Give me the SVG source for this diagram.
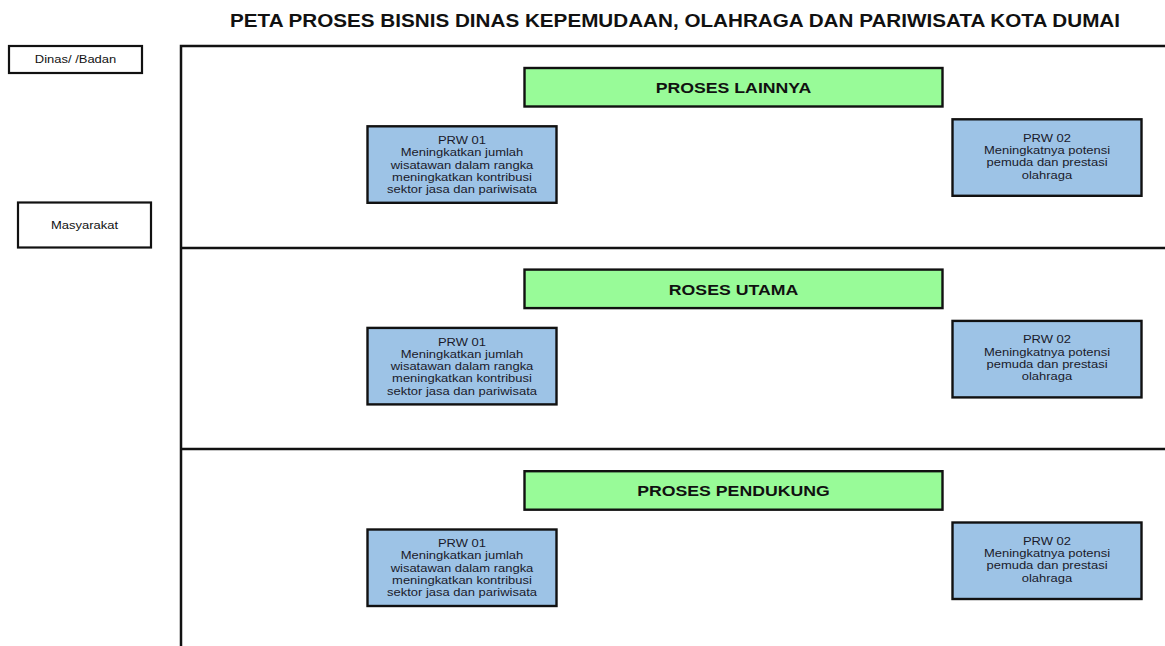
<svg xmlns="http://www.w3.org/2000/svg" width="1165" height="646" viewBox="0 0 1165 646">
<style>
text{font-family:"Liberation Sans",Arial,sans-serif;fill:#111;}
.title{font-size:17.5px;font-weight:bold;}
.lbl{font-size:11px;text-anchor:middle;}
.box{fill:#fff;stroke:#111;stroke-width:2.2;}
.lane{fill:none;stroke:#111;stroke-width:2.5;}
.grn{fill:#98fb98;stroke:#111;stroke-width:2.4;}
.gtx{font-size:15px;font-weight:bold;text-anchor:middle;}
.blu{fill:#9dc3e6;stroke:#111;stroke-width:2.4;}
.btx{font-size:11px;text-anchor:middle;fill:#1a1a2a;}
</style>
<rect width="1165" height="646" fill="#fff"/>
<text class="title" x="675" y="26.7" text-anchor="middle" textLength="890" lengthAdjust="spacingAndGlyphs">PETA PROSES BISNIS DINAS KEPEMUDAAN, OLAHRAGA DAN PARIWISATA KOTA DUMAI</text>

<g id="lanes">
<rect class="lane" x="181" y="46" width="1010" height="640"/>
<line class="lane" x1="181" y1="248" x2="1170" y2="248"/>
<line class="lane" x1="181" y1="449" x2="1170" y2="449"/>
</g>

<g id="dinas-badan">
<rect class="box" x="9" y="46" width="133" height="27"/>
<text class="lbl" transform="translate(75.5 0) scale(1.18 1)" x="0" y="63.3">Dinas/ /Badan</text>
</g>
<g id="masyarakat">
<rect class="box" x="18" y="202.5" width="133" height="45"/>
<text class="lbl" transform="translate(84.5 0) scale(1.18 1)" x="0" y="229.3">Masyarakat</text>
</g>

<g id="proses-lainnya">
<rect class="grn" x="524.5" y="68" width="418" height="38.5"/>
<text class="gtx" transform="translate(733.5 0) scale(1.18 1)" x="0" y="93">PROSES LAINNYA</text>
</g>
<g id="lainnya-prw01">
<rect class="blu" x="367.5" y="126.3" width="189" height="76.5"/>
<text class="btx" transform="translate(462 0) scale(1.18 1)"><tspan x="0" y="144">PRW 01</tspan><tspan x="0" y="156.3">Meningkatkan jumlah</tspan><tspan x="0" y="168.6">wisatawan dalam rangka</tspan><tspan x="0" y="180.9">meningkatkan kontribusi</tspan><tspan x="0" y="193.2">sektor jasa dan pariwisata</tspan></text>
</g>
<g id="lainnya-prw02">
<rect class="blu" x="952.5" y="119.3" width="189" height="76.5"/>
<text class="btx" transform="translate(1047 0) scale(1.18 1)"><tspan x="0" y="141.7">PRW 02</tspan><tspan x="0" y="154">Meningkatnya potensi</tspan><tspan x="0" y="166.3">pemuda dan prestasi</tspan><tspan x="0" y="178.6">olahraga</tspan></text>
</g>

<g id="proses-utama">
<rect class="grn" x="524.5" y="269.6" width="418" height="38.5"/>
<text class="gtx" transform="translate(733.5 0) scale(1.18 1)" x="0" y="294.6">ROSES UTAMA</text>
</g>
<g id="utama-prw01">
<rect class="blu" x="367.5" y="327.9" width="189" height="76.5"/>
<text class="btx" transform="translate(462 0) scale(1.18 1)"><tspan x="0" y="345.6">PRW 01</tspan><tspan x="0" y="357.9">Meningkatkan jumlah</tspan><tspan x="0" y="370.2">wisatawan dalam rangka</tspan><tspan x="0" y="382.5">meningkatkan kontribusi</tspan><tspan x="0" y="394.8">sektor jasa dan pariwisata</tspan></text>
</g>
<g id="utama-prw02">
<rect class="blu" x="952.5" y="320.9" width="189" height="76.5"/>
<text class="btx" transform="translate(1047 0) scale(1.18 1)"><tspan x="0" y="343.3">PRW 02</tspan><tspan x="0" y="355.6">Meningkatnya potensi</tspan><tspan x="0" y="367.9">pemuda dan prestasi</tspan><tspan x="0" y="380.2">olahraga</tspan></text>
</g>

<g id="proses-pendukung">
<rect class="grn" x="524.5" y="471.2" width="418" height="38.5"/>
<text class="gtx" transform="translate(733.5 0) scale(1.18 1)" x="0" y="496.2">PROSES PENDUKUNG</text>
</g>
<g id="pendukung-prw01">
<rect class="blu" x="367.5" y="529.5" width="189" height="76.5"/>
<text class="btx" transform="translate(462 0) scale(1.18 1)"><tspan x="0" y="547.2">PRW 01</tspan><tspan x="0" y="559.5">Meningkatkan jumlah</tspan><tspan x="0" y="571.8">wisatawan dalam rangka</tspan><tspan x="0" y="584.1">meningkatkan kontribusi</tspan><tspan x="0" y="596.4">sektor jasa dan pariwisata</tspan></text>
</g>
<g id="pendukung-prw02">
<rect class="blu" x="952.5" y="522.5" width="189" height="76.5"/>
<text class="btx" transform="translate(1047 0) scale(1.18 1)"><tspan x="0" y="544.9">PRW 02</tspan><tspan x="0" y="557.2">Meningkatnya potensi</tspan><tspan x="0" y="569.5">pemuda dan prestasi</tspan><tspan x="0" y="581.8">olahraga</tspan></text>
</g>

<g id="connectors"></g>
</svg>
